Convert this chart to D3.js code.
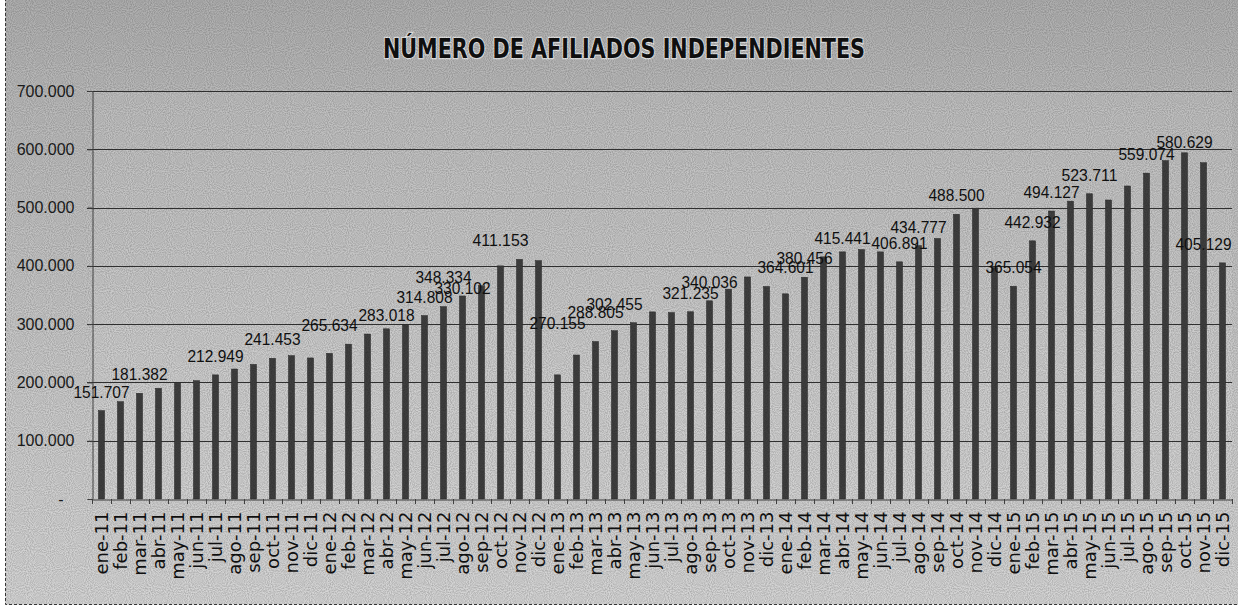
<!DOCTYPE html>
<html>
<head>
<meta charset="utf-8">
<script src="https://cdn.jsdelivr.net/npm/d3@7"></script>
<style>
  body { margin: 0; background: #fff; }
  svg { display: block; }
</style>
</head>
<body>
<div id="chart"></div>
<script>
// data
const years = ["11", "12", "13", "14", "15"];
const months = ["ene", "feb", "mar", "abr", "may", "jun", "jul", "ago", "sep", "oct", "nov", "dic"];

const afiliados2011 = [151707, 167000, 181382, 190000, 200000, 203000, 212949, 223000, 231000, 241453, 246000, 242000];
const afiliados2012 = [250000, 265634, 283018, 292000, 299000, 314808, 330102, 348334, 366000, 400000, 411153, 409000];
const afiliados2013 = [213000, 247000, 270155, 288805, 302455, 321000, 320000, 321235, 340036, 360000, 381000, 364601];
const afiliados2014 = [352000, 380456, 415441, 424000, 428000, 424000, 406891, 434777, 447000, 488500, 499000, 397000];
const afiliados2015 = [365054, 442932, 494127, 511000, 523711, 513000, 537000, 559074, 580629, 594000, 577000, 405129];

// data labels as they sit in the picture: month under the label, value shown
const labelMonths = ["ene-11", "mar-11", "jul-11", "oct-11", "ene-12", "abr-12", "jun-12", "ago-12", "jul-12", "oct-12",
                     "ene-13", "mar-13", "abr-13", "ago-13", "sep-13", "ene-14", "feb-14", "abr-14", "jul-14", "ago-14",
                     "oct-14", "ene-15", "feb-15", "mar-15", "may-15", "ago-15", "oct-15", "nov-15"];
const labelValues = [151707, 181382, 212949, 241453, 265634, 283018, 314808, 330102, 348334, 411153,
                     270155, 288805, 302455, 321235, 340036, 364601, 380456, 415441, 406891, 434777,
                     488500, 365054, 442932, 494127, 523711, 559074, 580629, 405129];

const yTicks = [0, 100000, 200000, 300000, 400000, 500000, 600000, 700000];
const title = "NÚMERO DE AFILIADOS INDEPENDIENTES";

const categories = years.flatMap(yy => months.map(m => `${m}-${yy}`));
const values = [].concat(afiliados2011, afiliados2012, afiliados2013, afiliados2014, afiliados2015);
const data = categories.map((c, i) => ({ mes: c, valor: values[i] }));
const labels = labelMonths.map((m, i) => ({ mes: m, valor: labelValues[i] }));

// dimensions
const width = 1238;
const height = 607;
const PLOT_LEFT = 92;
const PLOT_RIGHT = 1232;
const PLOT_TOP = 91;
const PLOT_BOTTOM = 499;

const es = d3.formatLocale({ decimal: ",", thousands: ".", grouping: [3], currency: ["", ""] });
const fmt = es.format(",d");
const fmtLabel = v => es.format(",.3f")(v / 1000).replace(",", ".");

const svg = d3.select("#chart").append("svg")
  .attr("width", width)
  .attr("height", height);

const defs = svg.append("defs");
const grad = defs.append("linearGradient").attr("id", "bg").attr("x1", 0).attr("y1", 0).attr("x2", 0).attr("y2", 1);
grad.append("stop").attr("offset", "0%").attr("stop-color", "#b0b0b0");
grad.append("stop").attr("offset", "15%").attr("stop-color", "#bababa");
grad.append("stop").attr("offset", "55%").attr("stop-color", "#c8c8c8");
grad.append("stop").attr("offset", "100%").attr("stop-color", "#d6d6d6");

const noise = defs.append("filter").attr("id", "grain").attr("x", 0).attr("y", 0).attr("width", "100%").attr("height", "100%");
noise.append("feTurbulence").attr("type", "fractalNoise").attr("baseFrequency", 0.95).attr("numOctaves", 1).attr("seed", 3);
noise.append("feColorMatrix").attr("type", "matrix")
  .attr("values", "0 0 0 0 0  0 0 0 0 0  0 0 0 0 0  0 0 0 -1.6 1.1");

// chart area
svg.append("rect")
  .attr("x", 5.5).attr("y", -1)
  .attr("width", width).attr("height", 605.5)
  .attr("fill", "url(#bg)")
  .attr("stroke", "#3a3a3a")
  .attr("stroke-dasharray", "3,2");

svg.append("rect")
  .attr("x", PLOT_LEFT).attr("y", PLOT_TOP)
  .attr("width", PLOT_RIGHT - PLOT_LEFT).attr("height", PLOT_BOTTOM - PLOT_TOP)
  .attr("fill", "#ffffff").attr("opacity", 0.08);

// scales
const x = d3.scaleBand()
  .domain(categories)
  .range([PLOT_LEFT, PLOT_RIGHT])
  .paddingInner(0.68)
  .paddingOuter(0.34);

const y = d3.scaleLinear()
  .domain([0, 700000])
  .range([PLOT_BOTTOM, PLOT_TOP]);

// gridlines
svg.append("g").attr("class", "grid")
  .selectAll("line")
  .data(yTicks.filter(d => d > 0))
  .join("line")
  .attr("x1", PLOT_LEFT - 5).attr("x2", PLOT_RIGHT)
  .attr("y1", d => Math.round(y(d)) + 0.5).attr("y2", d => Math.round(y(d)) + 0.5)
  .attr("stroke", "#333")
  .attr("stroke-width", 1);

// y axis
const yAxis = svg.append("g")
  .attr("transform", `translate(${PLOT_LEFT + 0.5},0)`)
  .call(d3.axisLeft(y).tickValues(yTicks).tickSize(5).tickPadding(13)
    .tickFormat(d => d === 0 ? "-" : fmt(d)));
yAxis.select(".domain").attr("stroke", "#444");
yAxis.selectAll(".tick line").attr("stroke", "#444");
yAxis.selectAll(".tick text")
  .attr("font-family", "'Liberation Sans', Arial, sans-serif")
  .attr("font-size", 16)
  .attr("fill", "#1c1c1c")
  .attr("dx", d => d === 0 ? -11 : 0);

// bars
svg.append("g").attr("class", "bars")
  .selectAll("rect")
  .data(data)
  .join("rect")
  .attr("x", d => x(d.mes))
  .attr("y", d => y(d.valor))
  .attr("width", x.bandwidth())
  .attr("height", d => y(0) - y(d.valor))
  .attr("fill", "#404040")
  .attr("stroke", "#2a2a2a")
  .attr("stroke-width", 0.5);

// x axis
const xAxis = svg.append("g")
  .attr("transform", `translate(0,${PLOT_BOTTOM + 0.5})`)
  .call(d3.axisBottom(x).tickSize(0).tickPadding(0));
xAxis.select(".domain").attr("stroke", "#444");
xAxis.selectAll(".tick text")
  .attr("transform", "rotate(-90)")
  .attr("text-anchor", "end")
  .attr("x", -12)
  .attr("y", 0)
  .attr("dy", "0.36em")
  .attr("font-family", "'DejaVu Sans', Verdana, sans-serif")
  .attr("font-size", 18)
  .attr("fill", "#111");

// tick marks between categories
const half = x.step() * x.paddingInner() / 2;
const edges = categories.map(c => x(c) - half).concat([x(categories[categories.length - 1]) + x.bandwidth() + half]);
svg.append("g").attr("class", "xticks")
  .selectAll("line")
  .data(edges)
  .join("line")
  .attr("x1", d => Math.round(d) + 0.5).attr("x2", d => Math.round(d) + 0.5)
  .attr("y1", PLOT_BOTTOM).attr("y2", PLOT_BOTTOM + 5)
  .attr("stroke", "#444");

// data labels
svg.append("g").attr("class", "labels")
  .selectAll("text")
  .data(labels)
  .join("text")
  .attr("x", d => x(d.mes) + x.bandwidth() / 2)
  .attr("y", d => y(d.valor) - 13)
  .attr("text-anchor", "middle")
  .attr("font-family", "'Liberation Sans Narrow', 'Arial Narrow', 'Liberation Sans', sans-serif")
  .attr("font-size", 17)
  .attr("textLength", 56)
  .attr("lengthAdjust", "spacingAndGlyphs")
  .attr("fill", "#111")
  .text(d => fmtLabel(d.valor));

// title
svg.append("text")
  .attr("x", 624)
  .attr("y", 58)
  .attr("text-anchor", "middle")
  .attr("font-family", "'DejaVu Sans', Verdana, sans-serif")
  .attr("font-weight", "bold")
  .attr("font-size", 27)
  .attr("textLength", 482)
  .attr("lengthAdjust", "spacingAndGlyphs")
  .attr("fill", "#111")
  .attr("stroke", "#e6e6e6")
  .attr("stroke-width", 2.5)
  .attr("paint-order", "stroke")
  .text(title);

// scan grain
svg.append("rect")
  .attr("x", 5).attr("y", 0)
  .attr("width", width).attr("height", 605)
  .attr("filter", "url(#grain)")
  .attr("opacity", 0.25)
  .attr("pointer-events", "none");
</script>
</body>
</html>
